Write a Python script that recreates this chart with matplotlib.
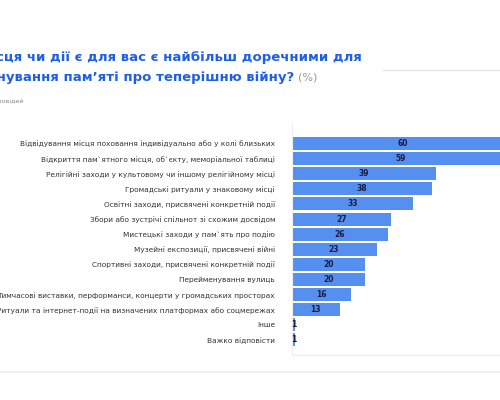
import numpy as np
import matplotlib.pyplot as plt

plt.rcParams['font.family'] = ['DejaVu Sans']

categories = [
    "Відвідування місця поховання індивідуально або у колі близьких",
    "Відкриття пам`ятного місця, об`єкту, меморіальної таблиці",
    "Релігійні заходи у культовому чи іншому релігійному місці",
    "Громадські ритуали у знаковому місці",
    "Освітні заходи, присвячені конкретній події",
    "Збори або зустрічі спільнот зі схожим досвідом",
    "Мистецькі заходи у пам`ять про подію",
    "Музейні експозиції, присвячені війні",
    "Спортивні заходи, присвячені конкретній події",
    "Перейменування вулиць",
    "Тимчасові виставки, перформанси, концерти у громадських просторах",
    "Ритуали та інтернет-події на визначених платформах або соцмережах",
    "Інше",
    "Важко відповісти",
]
values = [60, 59, 39, 38, 33, 27, 26, 23, 20, 20, 16, 13, 1, 1]

W, H = 500, 400
fig = plt.figure(figsize=(5, 4), dpi=100)

# title (cut at the left edge, as in the reference)
blue = '#1f5fe6'
fig.text(361.7 / W, 1 - 58 / H, "Які місця чи дії є для вас є найбільш доречними для",
         ha='right', va='center', fontsize=9.5, fontweight='bold', color=blue)
fig.text(294 / W, 1 - 77 / H, "вшанування пам’яті про теперішню війну?",
         ha='right', va='center', fontsize=9.5, fontweight='bold', color=blue)
fig.text(298 / W, 1 - 77.5 / H, "(%)", ha='left', va='center', fontsize=8, color='#999999')
fig.text(23 / W, 1 - 101 / H, "Кілька відповідей", ha='right', va='center',
         fontsize=4.5, color='#888888')

fig.add_artist(plt.Line2D([383 / W, 1], [1 - 70 / H] * 2, color='#e6e6e6', lw=1))
fig.add_artist(plt.Line2D([0, 1], [1 - 372 / H] * 2, color='#eeeeee', lw=1.2))

left, right = 291.7, 513
top, bottom = 123, 355
ax = fig.add_axes([left / W, 1 - bottom / H, (right - left) / W, (bottom - top) / H])

y = np.arange(len(values))
ax.barh(y, values, height=0.86, color='#5590f0')
for yi, v in zip(y, values):
    ax.text(v / 2, yi, str(v), ha='center', va='center', fontsize=5.5,
            fontweight='bold', color='#1a1a40')

ax.set_xlim(0, 60)
ax.set_ylim(13 + 15 / 15.1, -20.5 / 15.1)
ax.set_yticks(y)
ax.set_yticklabels(categories, fontsize=5.3, color='#333333')
ax.tick_params(axis='y', length=0, pad=12)
ax.set_xticks([])
for s in ['top', 'right']:
    ax.spines[s].set_visible(False)
ax.spines['left'].set_color('#eeeeee')
ax.spines['bottom'].set_color('#eeeeee')

fig.savefig('out.png', dpi=100)
